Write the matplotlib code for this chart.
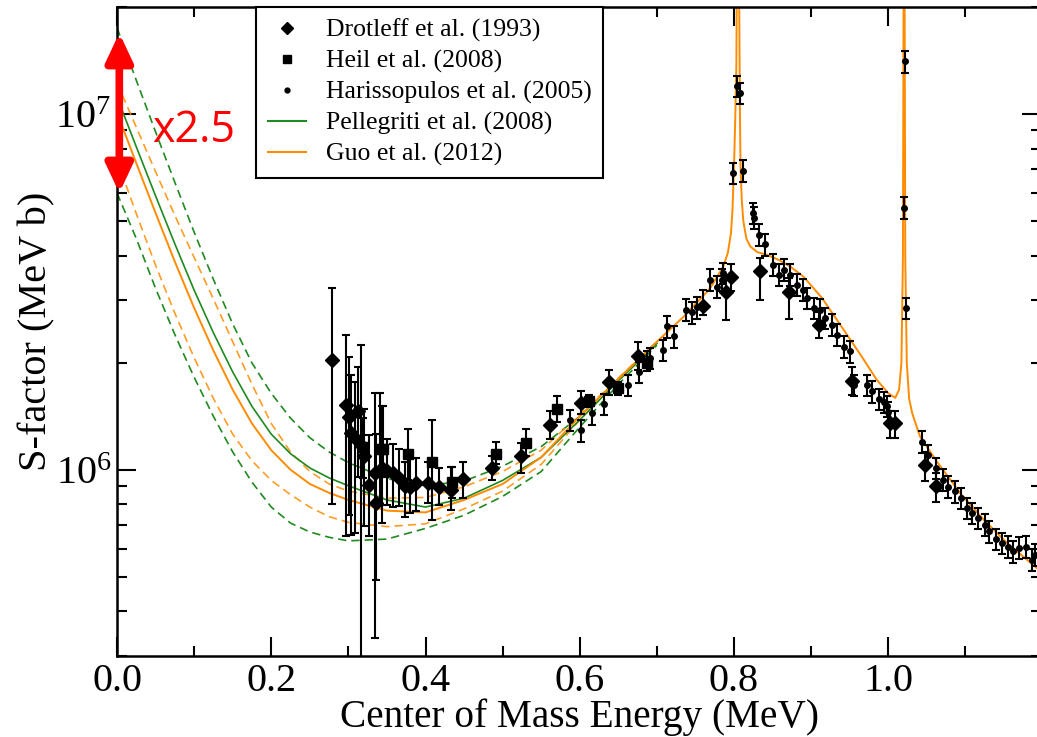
import numpy as np
import matplotlib
matplotlib.use("Agg")
import matplotlib.pyplot as plt
from matplotlib.lines import Line2D
from matplotlib.ticker import LogLocator, MultipleLocator, NullFormatter, FormatStrFormatter

plt.rcParams['font.family'] = ['Liberation Serif', 'DejaVu Serif']
plt.rcParams['mathtext.fontset'] = 'stix'

M = 1e6  # data values below are in units of 10^6 MeV b

# Drotleff et al. (1993) - diamonds
drot_E = [0.279, 0.297, 0.301, 0.304, 0.309, 0.312, 0.317, 0.320, 0.327, 0.335,
          0.336, 0.343, 0.350, 0.358, 0.365, 0.374, 0.380, 0.388, 0.403, 0.418,
          0.433, 0.448, 0.486, 0.524, 0.562, 0.601, 0.638, 0.675, 0.760, 0.790,
          0.796, 0.834, 0.871, 0.910, 0.953, 1.002, 1.009, 1.047, 1.062]
drot_S = [2.04, 1.52, 1.41, 1.27, 1.23, 1.46, 1.17, 1.09, 0.908, 0.977,
          0.807, 1.01, 0.989, 0.982, 0.946, 0.902, 0.897, 0.920, 0.918, 0.893,
          0.875, 0.942, 1.01, 1.09, 1.34, 1.54, 1.76, 2.09, 2.88, 3.17,
          3.49, 3.61, 3.17, 2.56, 1.78, 1.35, 1.35, 1.03, 0.90]
drot_hi = [3.25, 2.39, 2.07, 1.85, 1.77, 1.95, 2.24, 1.48, 1.25, 1.64,
           1.26, 1.51, 1.22, 1.18, 1.14, 1.05, 1.08, 1.08, 1.05, 1.01,
           1.02, 1.05, 1.09, 1.19, 1.46, 1.67, 1.91, 2.29, 3.20, 3.51,
           3.78, 3.93, 3.47, 2.77, 1.95, 1.46, 1.46, 1.12, 0.98]
drot_lo = [0.80, 0.65, 0.745, 0.656, 0.665, 0.955, 0.10, 0.695, 0.652, 0.337,
           0.49, 0.708, 0.794, 0.787, 0.789, 0.738, 0.757, 0.764, 0.807, 0.794,
           0.773, 0.834, 0.938, 0.982, 1.22, 1.43, 1.62, 1.91, 2.72, 2.63,
           3.18, 3.01, 2.65, 2.34, 1.62, 1.23, 1.23, 0.93, 0.81]

# Heil et al. (2008) - squares
heil_E = [0.319, 0.341, 0.345, 0.377, 0.409, 0.434, 0.491, 0.530, 0.571, 0.612, 0.649, 0.687]
heil_S = [1.16, 1.14, 1.14, 1.11, 1.05, 0.923, 1.11, 1.19, 1.48, 1.56, 1.70, 2.00]
heil_hi = [1.40, 1.64, 1.51, 1.30, 1.38, 1.02, 1.20, 1.30, 1.61, 1.62, 1.77, 2.15]
heil_lo = [0.95, 0.794, 0.957, 0.938, 0.72, 0.834, 1.04, 1.09, 1.36, 1.50, 1.62, 1.90]

# Harissopulos et al. (2005) - small circles
har_E = [0.587, 0.602, 0.616, 0.632, 0.662, 0.677, 0.691, 0.708, 0.713, 0.722,
         0.738, 0.746, 0.752, 0.769, 0.778, 0.784, 0.786, 0.799, 0.804, 0.808,
         0.812, 0.825, 0.826, 0.832, 0.840, 0.850, 0.858, 0.865, 0.872, 0.881,
         0.889, 0.895, 0.904, 0.911, 0.918, 0.927, 0.934, 0.942, 0.950, 0.955,
         0.972, 0.979, 0.988, 0.994, 0.998, 1.000, 1.021, 1.022, 1.023, 1.044,
         1.052, 1.062, 1.071, 1.078, 1.086, 1.094, 1.102, 1.109, 1.116, 1.125,
         1.131, 1.140, 1.147, 1.155, 1.162, 1.169, 1.178, 1.186, 1.190]
har_S = [1.38, 1.29, 1.44, 1.53, 1.73, 1.88, 2.06, 2.17, 2.53, 2.37,
         2.82, 2.77, 2.86, 3.42, 3.27, 3.42, 3.57, 6.82, 11.97, 11.46,
         6.93, 5.27, 5.11, 4.58, 4.30, 3.77, 3.53, 3.65, 3.53, 3.31,
         3.21, 3.04, 2.85, 2.82, 2.67, 2.56, 2.40, 2.22, 2.15, 1.73,
         1.73, 1.66, 1.58, 1.55, 1.51, 1.45, 5.45, 14.06, 2.85, 1.20,
         1.10, 1.01, 0.938, 0.897, 0.869, 0.832, 0.780, 0.755, 0.731, 0.700,
         0.671, 0.638, 0.622, 0.608, 0.589, 0.603, 0.608, 0.558, 0.577]
har_relerr = 0.07

# model curves at low energy, log10(S / MeV b), shared energy grid
band_E = [0.0, 0.025, 0.05, 0.075, 0.1, 0.125, 0.15, 0.175, 0.2, 0.225, 0.25,
          0.275, 0.3, 0.35, 0.4, 0.45, 0.5, 0.55, 0.6, 0.65, 0.7]
pell_log = [7.048, 6.908, 6.770, 6.635, 6.505, 6.385, 6.275, 6.178, 6.100, 6.045, 6.005,
            5.977, 5.955, 5.915, 5.895, 5.920, 5.970, 6.035, 6.140, 6.250, 6.355]
pell_up_log = [7.243, 7.095, 6.950, 6.808, 6.668, 6.535, 6.410, 6.300, 6.215, 6.145, 6.090,
               6.050, 6.020, 5.975, 5.955, 5.968, 6.010, 6.065, 6.150, 6.255, 6.360]
pell_dn_log = [6.778, 6.650, 6.510, 6.380, 6.260, 6.150, 6.050, 5.965, 5.895, 5.850, 5.825,
               5.810, 5.800, 5.805, 5.835, 5.872, 5.925, 5.995, 6.120, 6.240, 6.350]
guo_up_log = [7.088, 6.963, 6.838, 6.715, 6.597, 6.480, 6.360, 6.240, 6.130, 6.050, 5.995,
              5.960, 5.940, 5.920, 5.922, 5.952, 5.995, 6.055, 6.155, 6.258, 6.360]
guo_dn_log = [6.871, 6.720, 6.575, 6.440, 6.315, 6.200, 6.100, 6.025, 5.970, 5.930, 5.895,
              5.868, 5.852, 5.840, 5.848, 5.890, 5.940, 6.015, 6.140, 6.250, 6.355]

# Guo et al. (2012) full curve with the two narrow resonances, log10(S)
guo_E = [0.0, 0.025, 0.05, 0.075, 0.1, 0.125, 0.15, 0.175, 0.2, 0.225, 0.25,
         0.275, 0.3, 0.35, 0.4, 0.45, 0.5, 0.55, 0.6, 0.65, 0.7, 0.735, 0.769,
         0.786, 0.792, 0.796, 0.798, 0.800, 0.8015, 0.803, 0.804, 0.805, 0.806,
         0.8068, 0.8075, 0.8084, 0.810, 0.812, 0.816, 0.821, 0.830, 0.843, 0.858,
         0.873, 0.890, 0.914, 0.942, 0.965, 0.985, 1.000, 1.009, 1.014, 1.017,
         1.019, 1.0200, 1.0205, 1.021, 1.022, 1.024, 1.027, 1.031, 1.041, 1.063,
         1.093, 1.124, 1.154, 1.2]
guo_log = [7.004, 6.862, 6.722, 6.585, 6.455, 6.335, 6.225, 6.130, 6.055, 6.000, 5.960,
           5.935, 5.915, 5.885, 5.880, 5.915, 5.960, 6.035, 6.150, 6.255, 6.360, 6.431, 6.510,
           6.571, 6.610, 6.665, 6.730, 6.853, 6.980, 7.134, 7.500, 8.300, 7.600,
           7.300, 7.040, 6.853, 6.760, 6.700, 6.650, 6.628, 6.612, 6.604, 6.590,
           6.571, 6.543, 6.483, 6.394, 6.320, 6.253, 6.215, 6.202, 6.225, 6.300,
           6.600, 7.500, 8.300, 7.500, 6.600, 6.300, 6.200, 6.159, 6.094, 6.023,
           5.935, 5.859, 5.794, 5.710]

green = '#1f8a1f'
orange = '#ff8c00'

fig = plt.figure(figsize=(10.37, 7.37), dpi=100)
ax = fig.add_axes([117 / 1037, 1 - 655.7 / 737, 924 / 1037, 648.7 / 737])

def sc(v):
    return np.asarray(v) * M

def lg(v):
    return 10.0 ** np.asarray(v)

dash = (0, (5, 3))
ax.plot(band_E, lg(pell_up_log), color=green, lw=1.2, ls=dash)
ax.plot(band_E, lg(pell_dn_log), color=green, lw=1.2, ls=dash)
ax.plot(band_E, lg(guo_up_log), color=orange, lw=1.2, ls=dash, alpha=0.85)
ax.plot(band_E, lg(guo_dn_log), color=orange, lw=1.2, ls=dash, alpha=0.85)
ax.plot(band_E, lg(pell_log), color=green, lw=1.2)
ax.plot(guo_E, lg(guo_log), color=orange, lw=1.4)

eb = dict(color='black', ecolor='black', elinewidth=1.5, capsize=2.6, capthick=1.5, ls='none')
dS = np.asarray(drot_S)
ax.errorbar(drot_E, sc(dS), yerr=[sc(dS - np.asarray(drot_lo)), sc(np.asarray(drot_hi) - dS)],
            fmt='D', ms=7, **eb)
hS = np.asarray(heil_S)
ax.errorbar(heil_E, sc(hS), yerr=[sc(hS - np.asarray(heil_lo)), sc(np.asarray(heil_hi) - hS)],
            fmt='s', ms=7, **eb)
rS = np.asarray(har_S)
ax.errorbar(har_E, sc(rS), yerr=sc(rS * har_relerr), fmt='o', ms=4, **eb)

ax.set_yscale('log')
ax.set_xlim(0, 1.198)
ax.set_ylim(3.0e5, 2.0e7)

ax.xaxis.set_major_locator(MultipleLocator(0.2))
ax.xaxis.set_minor_locator(MultipleLocator(0.1))
ax.xaxis.set_major_formatter(FormatStrFormatter('%.1f'))
ax.yaxis.set_major_locator(LogLocator(base=10))
ax.yaxis.set_minor_locator(LogLocator(base=10, subs=np.arange(2, 10)))
ax.yaxis.set_minor_formatter(NullFormatter())
ax.tick_params(which='both', direction='in', top=True, right=True, width=1.5, labelsize=29)
ax.tick_params(which='major', length=14)
ax.tick_params(which='minor', length=7)
ax.tick_params(axis='x', which='major', pad=5)
ax.tick_params(axis='y', which='major', pad=4)
for s in ax.spines.values():
    s.set_linewidth(1.8)

ax.set_xlabel('Center of Mass Energy (MeV)', fontsize=28.3, labelpad=-1)
ax.set_ylabel('S-factor (MeV b)', fontsize=29, labelpad=0)

# red double arrow with the x2.5 label
ax.annotate('', xy=(0.003, 1.69e7), xytext=(0.003, 6.0e6),
            arrowprops=dict(arrowstyle='<|-|>,head_length=0.85,head_width=0.4',
                            color='#ff0000', lw=5.5, mutation_scale=20, shrinkA=0, shrinkB=0),
            annotation_clip=False)
fig.text(152 / 1037, 1 - 131 / 737, 'x2.5', color='#ff0000', fontsize=31,
         family=['Open Sans', 'DejaVu Sans'], va='center', ha='left')

handles = [
    Line2D([], [], color='black', marker='D', ls='none', ms=6),
    Line2D([], [], color='black', marker='s', ls='none', ms=6),
    Line2D([], [], color='black', marker='o', ls='none', ms=3.5),
    Line2D([], [], color=green, lw=1.5),
    Line2D([], [], color=orange, lw=1.5),
]
labels = ['Drotleff et al. (1993)', 'Heil et al. (2008)', 'Harissopulos et al. (2005)',
          'Pellegriti et al. (2008)', 'Guo et al. (2012)']
leg = ax.legend(handles, labels, loc='upper left', bbox_to_anchor=(256 / 1037, 1 - 7 / 737),
                bbox_transform=fig.transFigure, fontsize=18.5, frameon=True, fancybox=False,
                edgecolor='black', framealpha=1, handlelength=1.5, handletextpad=0.78,
                labelspacing=0.3, borderpad=0.45, borderaxespad=0)
leg.get_frame().set_linewidth(1.5)

fig.savefig('out.png', dpi=100)
